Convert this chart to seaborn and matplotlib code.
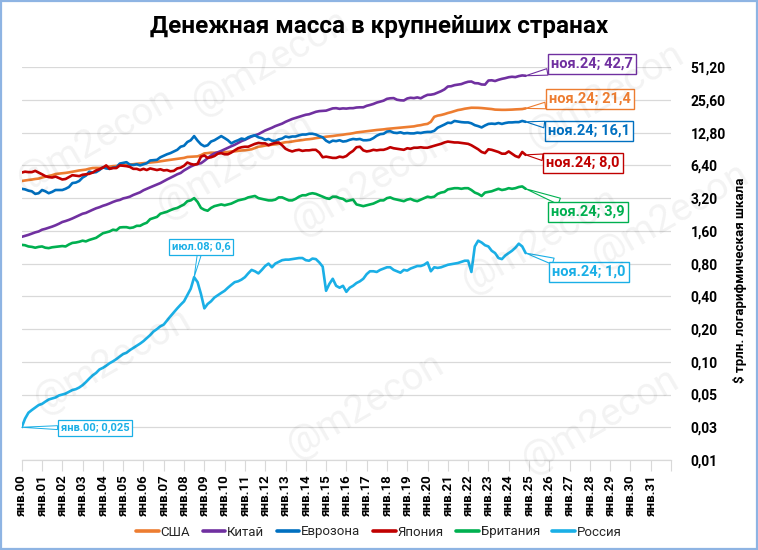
import numpy as np
import pandas as pd
import matplotlib
matplotlib.use("Agg")
import matplotlib.pyplot as plt
from matplotlib.patches import Rectangle
import seaborn as sns

# ---------------- data (bimonthly, Jan 2000 .. Nov 2024), $ trn ----------------
dates = pd.date_range("2000-01-01", "2024-11-01", freq="2MS")

usa = [
    4.60, 4.65, 4.70, 4.74, 4.80, 4.84,
    4.95, 5.03, 5.12, 5.20, 5.33, 5.38,
    5.42, 5.46, 5.52, 5.60, 5.67, 5.75,
    5.80, 5.85, 5.97, 6.05, 6.07, 6.06,
    6.10, 6.17, 6.25, 6.30, 6.33, 6.40,
    6.42, 6.45, 6.50, 6.56, 6.62, 6.66,
    6.70, 6.75, 6.80, 6.84, 6.90, 6.98,
    7.07, 7.13, 7.20, 7.28, 7.35, 7.40,
    7.50, 7.65, 7.68, 7.70, 7.75, 7.95,
    8.25, 8.30, 8.38, 8.37, 8.40, 8.47,
    8.47, 8.50, 8.60, 8.62, 8.70, 8.78,
    8.81, 8.90, 9.00, 9.25, 9.50, 9.60,
    9.74, 9.82, 9.90, 10.00, 10.10, 10.30,
    10.45, 10.50, 10.60, 10.75, 10.85, 10.95,
    11.08, 11.15, 11.25, 11.40, 11.50, 11.60,
    11.75, 11.82, 11.92, 12.05, 12.15, 12.25,
    12.40, 12.50, 12.65, 12.85, 12.97, 13.10,
    13.22, 13.30, 13.42, 13.54, 13.62, 13.72,
    13.86, 13.95, 14.02, 14.16, 14.22, 14.30,
    14.43, 14.50, 14.62, 14.85, 15.00, 15.25,
    15.41, 16.10, 17.90, 18.35, 18.60, 18.95,
    19.40, 19.75, 20.20, 20.65, 20.90, 21.25,
    21.50, 21.70, 21.70, 21.65, 21.55, 21.40,
    21.30, 21.10, 20.85, 20.80, 20.75, 20.75,
    20.80, 20.85, 20.95, 21.00, 21.10, 21.40,
]

china = [
    1.41, 1.44, 1.47, 1.51, 1.55, 1.58,
    1.64, 1.67, 1.71, 1.75, 1.80, 1.86,
    1.93, 1.97, 2.02, 2.08, 2.15, 2.22,
    2.30, 2.34, 2.42, 2.50, 2.58, 2.64,
    2.72, 2.78, 2.86, 2.95, 3.03, 3.08,
    3.18, 3.23, 3.30, 3.42, 3.52, 3.62,
    3.78, 3.90, 4.02, 4.14, 4.26, 4.40,
    4.58, 4.75, 4.92, 5.10, 5.30, 5.45,
    5.75, 6.00, 6.25, 6.45, 6.60, 6.70,
    7.05, 7.45, 7.90, 8.25, 8.45, 8.70,
    9.00, 9.30, 9.60, 9.90, 10.30, 10.70,
    11.00, 11.40, 11.80, 12.10, 12.40, 12.90,
    13.40, 13.80, 14.20, 14.70, 15.10, 15.50,
    16.10, 16.60, 17.10, 17.50, 17.90, 18.30,
    18.70, 18.90, 19.40, 19.90, 20.20, 20.30,
    20.40, 20.90, 21.40, 21.50, 21.20, 21.40,
    21.30, 21.50, 21.50, 21.80, 21.90, 21.90,
    22.60, 23.00, 23.50, 24.20, 24.70, 25.20,
    26.20, 26.50, 26.60, 25.70, 25.40, 25.30,
    26.40, 26.80, 26.60, 27.00, 26.50, 27.60,
    28.50, 28.60, 29.00, 29.90, 30.80, 32.00,
    34.00, 34.20, 35.00, 35.40, 35.80, 36.80,
    37.60, 37.80, 36.50, 36.40, 35.50, 35.40,
    38.60, 38.80, 38.20, 39.20, 40.00, 40.60,
    41.40, 41.80, 41.50, 42.40, 43.00, 42.70,
]

euro = [
    3.90, 3.85, 3.75, 3.70, 3.50, 3.55,
    3.80, 3.70, 3.55, 3.65, 3.80, 3.80,
    3.80, 3.90, 4.05, 4.40, 4.45, 4.60,
    4.95, 5.15, 5.60, 5.50, 5.55, 5.80,
    6.15, 6.00, 5.95, 6.10, 6.15, 6.65,
    6.75, 6.85, 6.50, 6.45, 6.55, 6.40,
    6.55, 6.70, 7.10, 7.15, 7.20, 7.60,
    7.85, 8.10, 8.30, 8.60, 8.90, 9.50,
    9.70, 10.50, 10.90, 11.90, 10.80, 10.00,
    9.60, 9.80, 10.60, 10.90, 11.40, 11.90,
    11.40, 10.90, 10.20, 10.60, 10.90, 11.30,
    11.10, 11.60, 11.90, 12.10, 11.60, 11.40,
    11.00, 11.20, 10.80, 10.70, 11.10, 11.30,
    11.80, 11.60, 11.80, 11.80, 12.10, 12.30,
    12.30, 12.50, 12.50, 12.30, 11.90, 11.60,
    10.80, 10.40, 10.80, 10.70, 10.90, 10.60,
    10.70, 11.00, 11.20, 11.10, 11.20, 10.90,
    10.90, 11.00, 11.40, 12.00, 12.40, 12.50,
    13.10, 13.20, 12.80, 12.70, 12.90, 12.60,
    12.70, 12.60, 12.60, 12.80, 12.70, 12.90,
    13.00, 13.00, 13.30, 14.20, 14.70, 15.20,
    15.80, 15.70, 16.40, 16.20, 16.00, 15.90,
    15.90, 15.60, 15.00, 14.70, 14.30, 14.90,
    15.40, 15.50, 15.40, 15.70, 15.40, 15.70,
    15.90, 15.90, 16.00, 16.00, 16.40, 16.10,
]

japan = [
    5.50, 5.60, 5.55, 5.55, 5.70, 5.50,
    5.30, 5.10, 5.00, 4.95, 5.05, 4.90,
    4.75, 4.80, 5.00, 5.20, 5.15, 5.10,
    5.25, 5.30, 5.35, 5.50, 5.75, 5.90,
    6.10, 6.40, 5.95, 6.05, 6.05, 6.40,
    6.35, 6.30, 6.20, 5.95, 5.95, 5.80,
    5.95, 5.80, 6.00, 5.90, 5.80, 5.90,
    5.75, 5.80, 5.65, 5.70, 6.00, 6.10,
    6.35, 6.80, 6.60, 6.50, 6.60, 7.70,
    7.90, 7.50, 7.60, 7.80, 8.20, 8.30,
    8.10, 8.10, 8.40, 8.80, 9.20, 9.40,
    9.50, 9.50, 9.80, 10.10, 10.30, 10.20,
    10.20, 9.80, 10.10, 10.30, 10.40, 9.80,
    9.10, 8.80, 8.60, 8.80, 8.90, 8.70,
    8.80, 8.80, 8.90, 8.90, 8.40, 7.60,
    7.70, 7.60, 7.50, 7.50, 7.70, 7.60,
    7.80, 8.30, 8.70, 9.40, 9.50, 8.80,
    8.60, 8.70, 8.90, 8.80, 8.90, 8.90,
    9.10, 9.40, 9.20, 9.10, 9.00, 8.90,
    9.20, 9.10, 9.30, 9.30, 9.40, 9.30,
    9.30, 9.50, 9.70, 9.90, 10.10, 10.40,
    10.60, 10.50, 10.40, 10.40, 10.30, 10.20,
    10.10, 9.80, 9.40, 9.00, 8.50, 8.30,
    9.00, 8.90, 8.70, 8.50, 8.20, 8.20,
    8.60, 8.20, 7.80, 7.60, 8.50, 8.00,
]

uk = [
    1.19, 1.18, 1.15, 1.14, 1.12, 1.14,
    1.15, 1.12, 1.11, 1.13, 1.14, 1.15,
    1.16, 1.15, 1.20, 1.24, 1.25, 1.27,
    1.30, 1.28, 1.32, 1.35, 1.38, 1.45,
    1.52, 1.55, 1.58, 1.64, 1.62, 1.72,
    1.73, 1.73, 1.70, 1.72, 1.78, 1.78,
    1.85, 1.90, 2.05, 2.10, 2.15, 2.30,
    2.35, 2.40, 2.48, 2.55, 2.60, 2.70,
    2.80, 3.00, 3.05, 3.20, 2.95, 2.60,
    2.50, 2.45, 2.60, 2.70, 2.75, 2.80,
    2.75, 2.80, 2.85, 2.95, 3.05, 3.10,
    3.15, 3.25, 3.30, 3.35, 3.20, 3.15,
    3.10, 3.05, 3.05, 3.10, 3.25, 3.25,
    3.15, 3.05, 3.05, 3.15, 3.30, 3.40,
    3.40, 3.50, 3.55, 3.50, 3.40, 3.30,
    3.20, 3.15, 3.30, 3.30, 3.20, 3.15,
    3.00, 3.05, 3.10, 2.80, 2.75, 2.70,
    2.75, 2.80, 2.85, 2.95, 3.05, 3.05,
    3.20, 3.25, 3.15, 3.10, 3.05, 3.00,
    3.10, 3.15, 3.05, 3.00, 3.10, 3.20,
    3.30, 3.25, 3.30, 3.50, 3.60, 3.65,
    3.85, 3.90, 3.95, 3.95, 3.90, 3.95,
    3.95, 3.80, 3.60, 3.50, 3.35, 3.60,
    3.65, 3.70, 3.80, 3.90, 3.80, 3.85,
    3.95, 3.90, 3.95, 4.05, 4.10, 3.90,
]

russia = [
    0.025, 0.030, 0.034, 0.036, 0.038, 0.040,
    0.041, 0.043, 0.045, 0.046, 0.047, 0.049,
    0.050, 0.051, 0.053, 0.055, 0.056, 0.058,
    0.061, 0.065, 0.070, 0.075, 0.079, 0.085,
    0.088, 0.092, 0.097, 0.101, 0.106, 0.112,
    0.118, 0.121, 0.128, 0.134, 0.140, 0.147,
    0.155, 0.165, 0.176, 0.190, 0.200, 0.212,
    0.220, 0.240, 0.262, 0.285, 0.310, 0.335,
    0.360, 0.410, 0.470, 0.600, 0.540, 0.420,
    0.310, 0.340, 0.360, 0.390, 0.410, 0.430,
    0.450, 0.480, 0.510, 0.540, 0.550, 0.570,
    0.600, 0.650, 0.700, 0.680, 0.650, 0.700,
    0.760, 0.800, 0.740, 0.800, 0.830, 0.860,
    0.870, 0.870, 0.880, 0.890, 0.900, 0.900,
    0.860, 0.850, 0.890, 0.880, 0.820, 0.750,
    0.450, 0.520, 0.580, 0.500, 0.480, 0.500,
    0.440, 0.480, 0.500, 0.530, 0.550, 0.580,
    0.640, 0.680, 0.680, 0.670, 0.700, 0.720,
    0.740, 0.740, 0.700, 0.680, 0.660, 0.700,
    0.690, 0.720, 0.740, 0.760, 0.760, 0.780,
    0.820, 0.680, 0.740, 0.730, 0.740, 0.760,
    0.780, 0.790, 0.800, 0.810, 0.830, 0.850,
    0.850, 0.670, 1.150, 1.300, 1.250, 1.180,
    1.150, 1.050, 1.000, 0.900, 0.880, 0.950,
    1.000, 1.050, 1.120, 1.220, 1.150, 1.000,
]

countries = ["США", "Китай", "Еврозона", "Япония", "Британия", "Россия"]
colors = ["#ED7D31", "#7030A0", "#0070C0", "#C00000", "#00B050", "#1AAFE6"]
series = [usa, china, euro, japan, uk, russia]

y_ticks = [0.0125, 0.025, 0.05, 0.1, 0.2, 0.4, 0.8, 1.6, 3.2, 6.4, 12.8, 25.6, 51.2]
y_tick_labels = ["0,01", "0,03", "0,05", "0,10", "0,20", "0,40", "0,80",
                 "1,60", "3,20", "6,40", "12,80", "25,60", "51,20"]
x_years = list(range(2000, 2033))
x_tick_labels = ["янв.%02d" % (y % 100) for y in range(2000, 2032)] + [""]

end_labels = ["ноя.24; 21,4", "ноя.24; 42,7", "ноя.24; 16,1",
              "ноя.24; 8,0", "ноя.24; 3,9", "ноя.24; 1,0"]
# label box centres in figure pixels (x, y from bottom)
end_label_pos = [(590, 451), (592, 486), (589, 419), (583, 387), (588, 338), (589, 278)]

# ---------------- build table ----------------
df = pd.concat(
    [pd.DataFrame({"date": dates, "value": s, "country": c}) for c, s in zip(countries, series)],
    ignore_index=True,
)

sns.set_theme(style="white")
plt.rcParams["font.family"] = ["Roboto", "DejaVu Sans"]

fig = plt.figure(figsize=(7.58, 5.5), dpi=100)
ax = fig.add_axes([21.7 / 758, 1 - 460 / 550, (671 - 21.7) / 758, (460 - 67) / 550])

palette = dict(zip(countries, colors))
sns.lineplot(data=df, x="date", y="value", hue="country", hue_order=countries,
             palette=palette, estimator=None, linewidth=1.9, ax=ax, legend=True)

ax.set_yscale("log", base=2)
ax.set_ylim(0.0125, 51.2 * 1.004)
ax.set_xlim(pd.Timestamp("2000-01-01"), pd.Timestamp("2032-01-01"))

ax.set_yticks(y_ticks)
ax.set_yticklabels(y_tick_labels)
ax.yaxis.set_minor_locator(matplotlib.ticker.NullLocator())
ax.yaxis.tick_right()
ax.tick_params(axis="y", length=0, pad=14, labelsize=10, labelcolor="#000000")
for t in ax.get_yticklabels():
    t.set_fontweight("bold")
    t.set_horizontalalignment("left")

x_ticks = [pd.Timestamp(f"{y}-01-01") for y in x_years]
ax.set_xticks(x_ticks)
ax.set_xticklabels(x_tick_labels, rotation=90, fontweight="bold", fontsize=9.5)
ax.tick_params(axis="x", length=8, width=0.8, color="#D9D9D9", pad=2, direction="out",
               bottom=True, labelcolor="#000000")
ax.set_xlabel("")
ax.set_ylabel("")

ax.grid(axis="y", color="#D9D9D9", linewidth=0.9)
ax.grid(axis="x", visible=False)
for side in ["top", "left", "right"]:
    ax.spines[side].set_visible(False)
ax.spines["bottom"].set_color("#D9D9D9")
ax.spines["bottom"].set_linewidth(0.9)

# legend
handles, labels = ax.get_legend_handles_labels()
for h in handles:
    h.set_linewidth(2.6)
ax.legend(handles, labels, loc="center", bbox_to_anchor=(379 / 758, 1 - 532 / 550),
          bbox_transform=fig.transFigure, ncol=6, frameon=False, fontsize=9.5,
          handlelength=1.7, handletextpad=0.15, columnspacing=0.95)

# end-of-series callouts
for s, c, lab, pos in zip(series, colors, end_labels, end_label_pos):
    ax.annotate(lab, xy=(dates[-1], s[-1]), xycoords="data",
                xytext=pos, textcoords="figure pixels",
                ha="center", va="center", fontsize=10.5, fontweight="bold", color=c,
                bbox=dict(boxstyle="square,pad=0.22", fc="white", ec=c, lw=1.0),
                arrowprops=dict(arrowstyle="wedge,tail_width=0.45", fc="white", ec=c, lw=0.8,
                                shrinkA=0, shrinkB=0),
                annotation_clip=False, zorder=10)

# Russia historical callouts
rc = colors[5]
ax.annotate("июл.08; 0,6", xy=(dates[51], russia[51]), xycoords="data",
            xytext=(201, 303), textcoords="figure pixels", ha="center", va="center",
            fontsize=8, fontweight="bold", color=rc,
            bbox=dict(boxstyle="square,pad=0.25", fc="white", ec=rc, lw=0.9),
            arrowprops=dict(arrowstyle="wedge,tail_width=0.35", fc="white", ec=rc, lw=0.7,
                            shrinkA=0, shrinkB=0), zorder=10)
ax.annotate("янв.00; 0,025", xy=(dates[0], russia[0]), xycoords="data",
            xytext=(95, 122), textcoords="figure pixels", ha="center", va="center",
            fontsize=8, fontweight="bold", color=rc,
            bbox=dict(boxstyle="square,pad=0.25", fc="white", ec=rc, lw=0.9),
            arrowprops=dict(arrowstyle="wedge,tail_width=0.35", fc="white", ec=rc, lw=0.7,
                            shrinkA=0, shrinkB=0), annotation_clip=False, zorder=10)

# title and axis label
fig.text(379 / 758, 1 - 27 / 550, "Денежная масса в крупнейших странах",
         ha="center", va="center", fontsize=17.5, fontweight="bold", color="#000000")
fig.text(740 / 758, 1 - 280 / 550, "$ трлн. логарифмическая шкала", rotation=90,
         ha="center", va="center", fontsize=9.5, fontweight="bold", color="#000000")

# watermarks
for (wx, wy) in [(95, 140), (235, 165), (112, 360), (370, 182), (365, 405),
                 (600, 420), (540, 240), (670, 215), (605, 95), (270, 62)]:
    fig.text(wx / 758, 1 - wy / 550, "@m2econ", rotation=30, ha="center", va="center",
             fontsize=28, color="#000000", alpha=0.05, zorder=20)

# chart border
fig.patches.append(Rectangle((0.001, 0.001), 0.998, 0.998, transform=fig.transFigure,
                             fill=False, ec="#8EB4E3", lw=1.6))

fig.savefig("out.png", dpi=100)
